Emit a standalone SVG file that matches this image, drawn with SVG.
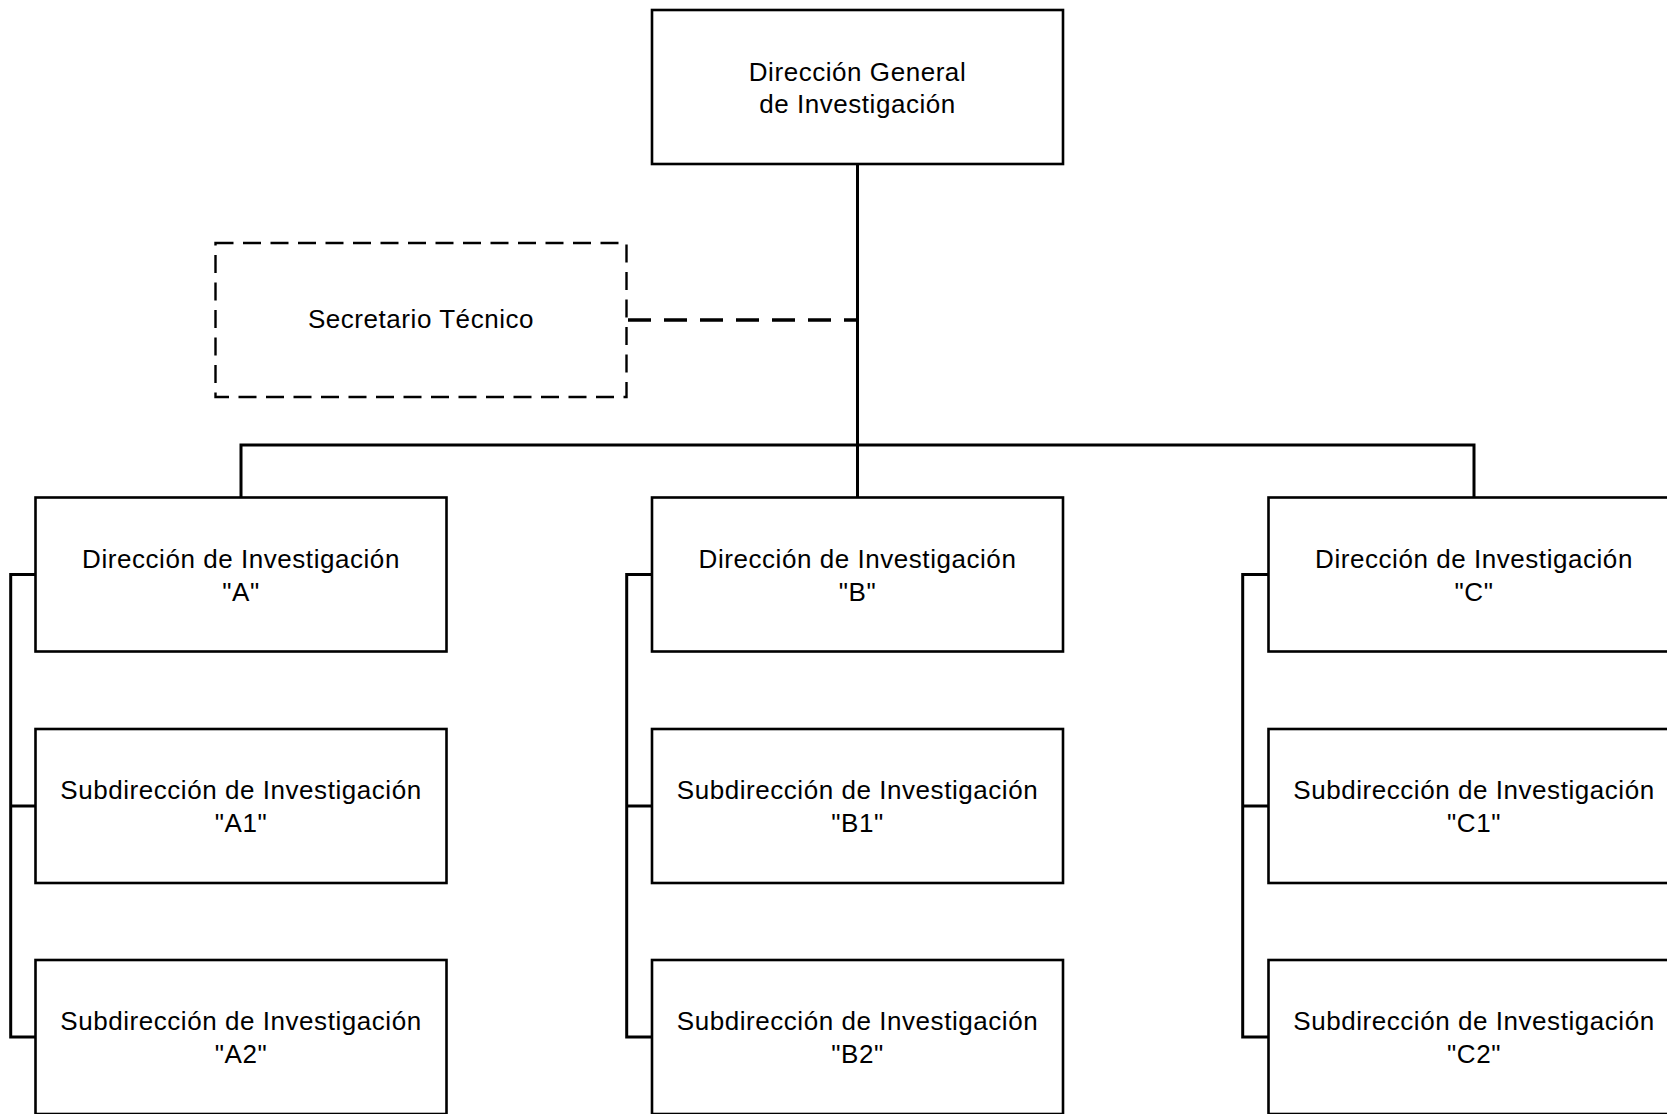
<svg xmlns="http://www.w3.org/2000/svg" width="1667" height="1114" viewBox="0 0 1667 1114">
<style>
.box{fill:#fff;stroke:#000;stroke-width:2.6}
.dbox{fill:#fff;stroke:#000;stroke-width:2.4;stroke-dasharray:18 9.5}
.ln{fill:none;stroke:#000;stroke-width:3}
.dln{fill:none;stroke:#000;stroke-width:3.5;stroke-dasharray:23 13}
text{font-family:"Liberation Sans",Arial,sans-serif;font-size:26px;letter-spacing:0.55px;fill:#000;text-anchor:middle}
</style>
<rect width="1667" height="1114" fill="#fff"/>
<g id="connectors">
<line class="ln" x1="857.5" y1="164" x2="857.5" y2="497.5"/>
<polyline class="ln" points="241,497.5 241,445 1474,445 1474,497.5"/>
<path class="dln" d="M628 320 H857.5"/>
<polyline class="ln" points="35.5,574.5 10.7,574.5 10.7,1037 35.5,1037"/>
<line class="ln" x1="10.7" y1="806" x2="35.5" y2="806"/>
<polyline class="ln" points="652,574.5 626.7,574.5 626.7,1037 652,1037"/>
<line class="ln" x1="626.7" y1="806" x2="652" y2="806"/>
<polyline class="ln" points="1268.5,574.5 1242.7,574.5 1242.7,1037 1268.5,1037"/>
<line class="ln" x1="1242.7" y1="806" x2="1268.5" y2="806"/>
</g>
<g id="dg"><rect class="box" x="652" y="10" width="411" height="154"/><text x="857.5" y="81">Dirección General</text><text x="857.5" y="113">de Investigación</text></g>
<g id="st"><rect class="dbox" x="215.5" y="243" width="411" height="154"/><text x="421" y="328">Secretario Técnico</text></g>
<g id="dA"><rect class="box" x="35.5" y="497.5" width="411" height="154"/><text x="241" y="567.5">Dirección de Investigación</text><text x="241" y="600.5">"A"</text></g>
<g id="dB"><rect class="box" x="652" y="497.5" width="411" height="154"/><text x="857.5" y="567.5">Dirección de Investigación</text><text x="857.5" y="600.5">"B"</text></g>
<g id="dC"><rect class="box" x="1268.5" y="497.5" width="411" height="154"/><text x="1474" y="567.5">Dirección de Investigación</text><text x="1474" y="600.5">"C"</text></g>
<g id="sA1"><rect class="box" x="35.5" y="729" width="411" height="154"/><text x="241" y="798.5">Subdirección de Investigación</text><text x="241" y="831.5">"A1"</text></g>
<g id="sB1"><rect class="box" x="652" y="729" width="411" height="154"/><text x="857.5" y="798.5">Subdirección de Investigación</text><text x="857.5" y="831.5">"B1"</text></g>
<g id="sC1"><rect class="box" x="1268.5" y="729" width="411" height="154"/><text x="1474" y="798.5">Subdirección de Investigación</text><text x="1474" y="831.5">"C1"</text></g>
<g id="sA2"><rect class="box" x="35.5" y="960" width="411" height="154"/><text x="241" y="1029.5">Subdirección de Investigación</text><text x="241" y="1062.5">"A2"</text></g>
<g id="sB2"><rect class="box" x="652" y="960" width="411" height="154"/><text x="857.5" y="1029.5">Subdirección de Investigación</text><text x="857.5" y="1062.5">"B2"</text></g>
<g id="sC2"><rect class="box" x="1268.5" y="960" width="411" height="154"/><text x="1474" y="1029.5">Subdirección de Investigación</text><text x="1474" y="1062.5">"C2"</text></g>
</svg>
